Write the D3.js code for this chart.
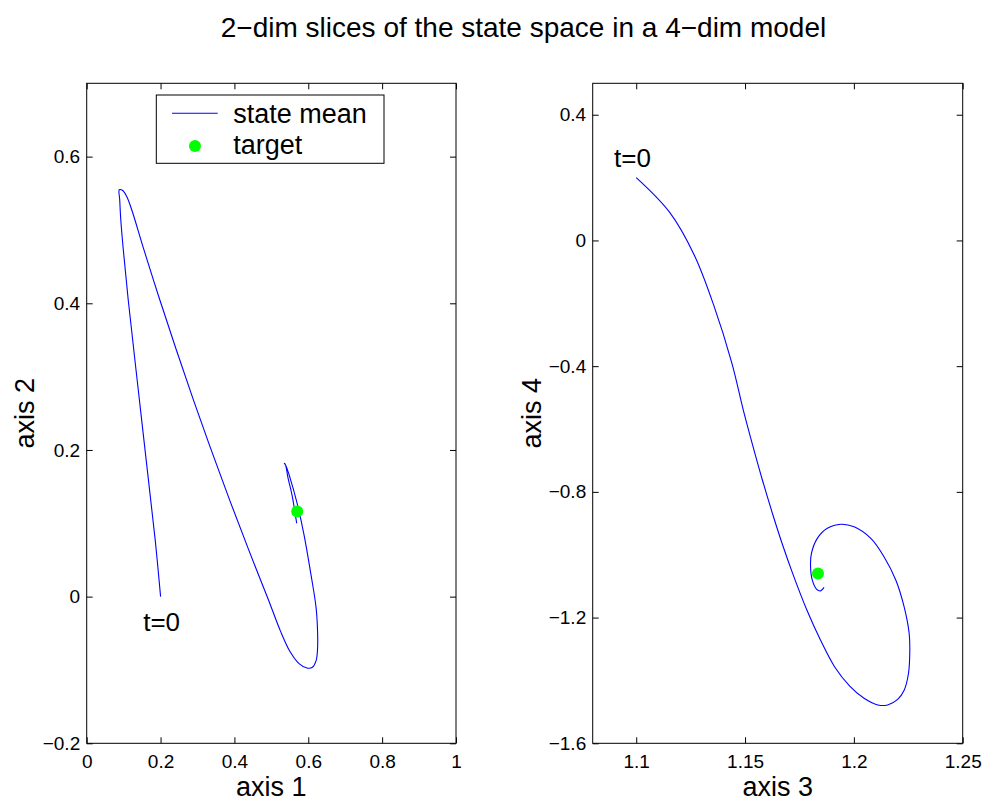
<!DOCTYPE html>
<html>
<head>
<meta charset="utf-8">
<script src="https://cdn.jsdelivr.net/npm/d3@7"></script>
<style>
  html, body { margin: 0; padding: 0; background: #fff; }
  svg { display: block; }
  text { font-family: "Liberation Sans", Arial, Helvetica, sans-serif; fill: #000; }
</style>
</head>
<body>
<div id="chart"></div>
<script>
// Trajectory of the state mean, projected onto axes 1/2 and 3/4
const axis1 = [0.2001, 0.1855, 0.1641, 0.1335, 0.1124, 0.0991, 0.0923, 0.0894, 0.0883, 0.0975,
               0.1083, 0.1219, 0.1549, 0.1979, 0.2426, 0.2889, 0.3371, 0.3869, 0.4387, 0.4923,
               0.5250, 0.5505, 0.5749, 0.5965, 0.6114, 0.6210, 0.6250, 0.6250, 0.6209, 0.6074,
               0.5885, 0.5695, 0.5506, 0.5397, 0.5351, 0.5383, 0.5451, 0.5559, 0.5686];
const axis2 = [0.0000, 0.0774, 0.1729, 0.3093, 0.4048, 0.4731, 0.5140, 0.5413, 0.5548, 0.5538,
               0.5456, 0.5276, 0.4731, 0.4048, 0.3366, 0.2684, 0.2001, 0.1319, 0.0637, -0.0045,
               -0.0474, -0.0749, -0.0913, -0.0973, -0.0963, -0.0877, -0.0725, -0.0452, -0.0139, 0.0296,
               0.0842, 0.1279, 0.1620, 0.1783, 0.1820, 0.1797, 0.1620, 0.1387, 0.1001];

const axis3 = [1.1000, 1.1153, 1.1267, 1.1356, 1.1440, 1.1492, 1.1537, 1.1580, 1.1631, 1.1673,
               1.1719, 1.1784, 1.1847, 1.1912, 1.1981, 1.2045, 1.2110, 1.2155, 1.2201, 1.2231,
               1.2251, 1.2257, 1.2254, 1.2231, 1.2193, 1.2139, 1.2078, 1.2001, 1.1940, 1.1878,
               1.1832, 1.1805, 1.1801, 1.1809, 1.1829, 1.1847, 1.1863];
const axis4 = [0.200, 0.090, -0.047, -0.206, -0.392, -0.540, -0.657, -0.763, -0.880, -0.970,
               -1.060, -1.176, -1.272, -1.357, -1.418, -1.456, -1.478, -1.478, -1.460, -1.431,
               -1.377, -1.303, -1.250, -1.166, -1.081, -1.007, -0.948, -0.911, -0.903, -0.916,
               -0.948, -0.996, -1.039, -1.081, -1.110, -1.115, -1.104];

// Target state (4 components)
const target = [0.570, 0.116, 1.1835, -1.060];

// Axis limits and tick values
const xTicks1 = [0, 0.2, 0.4, 0.6, 0.8, 1];
const yTicks2 = [-0.2, 0, 0.2, 0.4, 0.6];
const xTicks3 = [1.1, 1.15, 1.2, 1.25];
const yTicks4 = [-1.6, -1.2, -0.8, -0.4, 0, 0.4];
const xLim1 = [0, 1], yLim2 = [-0.2, 0.7];
const xLim3 = [1.08, 1.25], yLim4 = [-1.6, 0.5];

const W = 989, H = 802;
const svg = d3.select("#chart").append("svg").attr("width", W).attr("height", H);

svg.append("text")
  .attr("x", 523.5).attr("y", 37.3)
  .attr("text-anchor", "middle")
  .style("font-size", "28px")
  .text("2\u2212dim slices of the state space in a 4\u2212dim model");

const fmt = d3.format("~g");
const TICK = 6;

function panel(opt) {
  const { left, right, top, bottom } = opt.box;
  const x = d3.scaleLinear().domain(opt.xLim).range([left, right]);
  const y = d3.scaleLinear().domain(opt.yLim).range([bottom, top]);
  const g = svg.append("g");

  // ticks pointing inward on all four sides
  const styleAxis = sel => {
    sel.attr("font-family", null).attr("font-size", null);
    sel.select(".domain").remove();
    sel.selectAll("line").attr("stroke", "#000").attr("stroke-width", 1);
    sel.selectAll("text").style("font-size", "19px").attr("fill", "#000");
  };
  g.append("g").attr("transform", `translate(0,${bottom})`)
    .call(d3.axisBottom(x).tickValues(opt.xTicks).tickFormat(fmt)
      .tickSizeInner(-TICK).tickSizeOuter(0).tickPadding(11))
    .call(styleAxis);
  g.append("g").attr("transform", `translate(0,${top})`)
    .call(d3.axisTop(x).tickValues(opt.xTicks).tickFormat("")
      .tickSizeInner(-TICK).tickSizeOuter(0))
    .call(styleAxis);
  g.append("g").attr("transform", `translate(${left},0)`)
    .call(d3.axisLeft(y).tickValues(opt.yTicks).tickFormat(fmt)
      .tickSizeInner(-TICK).tickSizeOuter(0).tickPadding(6.5))
    .call(styleAxis);
  g.append("g").attr("transform", `translate(${right},0)`)
    .call(d3.axisRight(y).tickValues(opt.yTicks).tickFormat("")
      .tickSizeInner(-TICK).tickSizeOuter(0))
    .call(styleAxis);

  g.append("rect")
    .attr("x", left).attr("y", top)
    .attr("width", right - left).attr("height", bottom - top)
    .attr("fill", "none").attr("stroke", "#000").attr("stroke-width", 1);

  const pts = opt.xs.map((v, i) => [v, opt.ys[i]]);
  g.append("path")
    .datum(pts)
    .attr("fill", "none")
    .attr("stroke", "#0000ff")
    .attr("stroke-width", 1.1)
    .attr("d", d3.line().x(d => x(d[0])).y(d => y(d[1])).curve(d3.curveCatmullRom.alpha(0.5)));

  g.append("circle")
    .attr("cx", x(opt.target[0])).attr("cy", y(opt.target[1]))
    .attr("r", 6).attr("fill", "#00ff00");

  g.append("text")
    .attr("x", x(opt.startLabel[0])).attr("y", y(opt.startLabel[1]))
    .attr("dy", "0.35em")
    .style("font-size", "26px")
    .text("t=0");

  g.append("text")
    .attr("x", (left + right) / 2).attr("y", 796)
    .attr("text-anchor", "middle")
    .style("font-size", "27px")
    .text(opt.xLabel);

  g.append("text")
    .attr("transform", `translate(${opt.yLabelX},${(top + bottom) / 2}) rotate(-90)`)
    .attr("text-anchor", "middle")
    .style("font-size", "27px")
    .text(opt.yLabel);

  return { g, x, y };
}

panel({
  box: { left: 86.7, right: 456, top: 83.3, bottom: 743.3 },
  xLim: xLim1, yLim: yLim2, xTicks: xTicks1, yTicks: yTicks2,
  xs: axis1, ys: axis2, target: [target[0], target[1]],
  startLabel: [0.153, -0.034],
  xLabel: "axis 1", yLabel: "axis 2", yLabelX: 34
});

panel({
  box: { left: 592.7, right: 962.7, top: 83.3, bottom: 743.3 },
  xLim: xLim3, yLim: yLim4, xTicks: xTicks3, yTicks: yTicks4,
  xs: axis3, ys: axis4, target: [target[2], target[3]],
  startLabel: [1.0898, 0.262],
  xLabel: "axis 3", yLabel: "axis 4", yLabelX: 541
});

// legend in the first panel
const lg = svg.append("g");
lg.append("rect")
  .attr("x", 156.3).attr("y", 95).attr("width", 227.7).attr("height", 68.3)
  .attr("fill", "#fff").attr("stroke", "#000").attr("stroke-width", 1);
lg.append("line")
  .attr("x1", 172).attr("x2", 217.7).attr("y1", 113.3).attr("y2", 113.3)
  .attr("stroke", "#0000ff").attr("stroke-width", 1.1);
lg.append("text").attr("x", 233.3).attr("y", 123.3).style("font-size", "27px").text("state mean");
lg.append("circle").attr("cx", 195).attr("cy", 146).attr("r", 6).attr("fill", "#00ff00");
lg.append("text").attr("x", 233.3).attr("y", 154).style("font-size", "27px").text("target");
</script>
</body>
</html>
